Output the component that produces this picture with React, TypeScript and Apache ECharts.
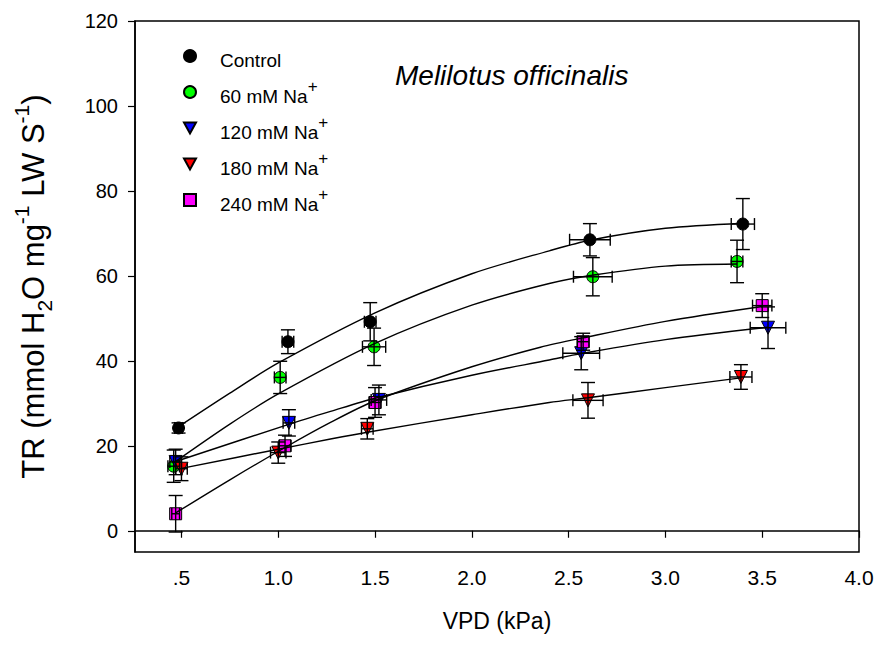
import React, { useEffect, useRef } from "react";
import * as echarts from "echarts";

// ---- Data ----
const groupNames = ["Control", "60 mM Na+", "120 mM Na+", "180 mM Na+", "240 mM Na+"];
const groupColors = ["#000000", "#00ff00", "#0000ff", "#ff0000", "#ff00ff"];
const groupSymbols = ["circle", "circle", "triangle", "triangle", "rect"];
const groupRotate = [0, 0, 180, 180, 0];
const downTriangle = "path://M0,0 L10,0 L5,9 Z";

// VPD (kPa) means
const ctrlX = [0.485, 1.05, 1.475, 2.61, 3.4];
const na60X = [0.46, 1.01, 1.495, 2.625, 3.37];
const na120X = [0.47, 1.055, 1.52, 2.565, 3.53];
const na180X = [0.5, 1.0, 1.46, 2.6, 3.39];
const na240X = [0.47, 1.035, 1.5, 2.575, 3.5];
// TR means
const ctrlY = [24.2, 44.5, 49.2, 68.5, 72.2];
const na60Y = [15.2, 36.1, 43.3, 59.8, 63.4];
const na120Y = [16.2, 25.4, 30.8, 41.8, 47.8];
const na180Y = [14.6, 18.4, 24.0, 30.7, 36.2];
const na240Y = [4.0, 20.0, 30.2, 44.5, 53.0];
// Horizontal error (VPD)
const ctrlXErr = [0.02, 0.03, 0.03, 0.105, 0.06];
const na60XErr = [0.03, 0.03, 0.06, 0.1, 0.03];
const na120XErr = [0.03, 0.03, 0.04, 0.095, 0.092];
const na180XErr = [0.03, 0.04, 0.03, 0.078, 0.057];
const na240XErr = [0.02, 0.03, 0.03, 0.03, 0.05];
// Vertical error (TR)
const ctrlYErr = [1.2, 2.8, 4.5, 3.8, 6.0];
const na60YErr = [3.8, 3.8, 4.4, 4.5, 5.0];
const na120YErr = [3.0, 3.1, 3.5, 3.9, 4.9];
const na180YErr = [2.8, 2.5, 2.4, 4.2, 2.9];
const na240YErr = [4.3, 2.5, 3.5, 2.0, 2.8];

// Fitted curves
const ctrlCurveX = [0.485, 0.75, 1.0, 1.5, 2.0, 2.4, 2.61, 3.0, 3.4];
const ctrlCurveY = [24.5, 32.4, 39.5, 51.3, 60.5, 65.9, 68.4, 71.2, 72.4];
const na60CurveX = [0.46, 0.75, 1.0, 1.5, 2.0, 2.4, 2.63, 3.0, 3.37];
const na60CurveY = [16.0, 25.1, 32.2, 44.1, 53.1, 58.2, 60.2, 62.3, 62.8];
const na120CurveX = [0.47, 1.05, 1.27, 1.5, 2.0, 2.4, 2.565, 3.0, 3.53];
const na120CurveY = [16.3, 25.0, 28.1, 31.2, 36.6, 40.2, 41.7, 45.0, 47.9];
const na180CurveX = [0.5, 1.0, 1.27, 1.46, 2.0, 2.4, 2.6, 3.0, 3.39];
const na180CurveY = [14.7, 19.2, 21.6, 23.2, 27.3, 30.2, 31.3, 33.7, 36.0];
const na240CurveX = [0.47, 0.75, 1.035, 1.27, 1.5, 2.0, 2.354, 2.573, 3.0, 3.5];
const na240CurveY = [4.2, 12.0, 19.6, 25.5, 30.6, 38.6, 43.2, 45.4, 49.3, 52.8];

const xTicks = [0.5, 1.0, 1.5, 2.0, 2.5, 3.0, 3.5, 4.0];
const yTicks = [0, 20, 40, 60, 80, 100, 120];

const allX = [ctrlX, na60X, na120X, na180X, na240X];
const allY = [ctrlY, na60Y, na120Y, na180Y, na240Y];
const allXErr = [ctrlXErr, na60XErr, na120XErr, na180XErr, na240XErr];
const allYErr = [ctrlYErr, na60YErr, na120YErr, na180YErr, na240YErr];
const allCurveX = [ctrlCurveX, na60CurveX, na120CurveX, na180CurveX, na240CurveX];
const allCurveY = [ctrlCurveY, na60CurveY, na120CurveY, na180CurveY, na240CurveY];

const SANS = "'Liberation Sans', Arial, sans-serif";
const NARROW = "'Liberation Sans Narrow', 'Liberation Sans', Arial, sans-serif";

function buildOption() {
  const series: any[] = [];
  groupNames.forEach((name, g) => {
    series.push({
      name,
      type: "scatter",
      z: 2,
      symbol: groupSymbols[g],
      symbolSize: groupSymbols[g] === "rect" ? 12 : groupSymbols[g] === "triangle" ? 13 : 12,
      symbolRotate: groupRotate[g],
      itemStyle: { color: groupColors[g], borderColor: "#000", borderWidth: 1, opacity: 1 },
      emphasis: { disabled: true },
      data: allX[g].map((x, i) => [x, allY[g][i]]),
    });
    series.push({
      name: name + " err",
      type: "custom",
      z: 3,
      data: allX[g].map((x, i) => [x, allY[g][i], allXErr[g][i], allYErr[g][i]]),
      renderItem: (_p: any, api: any) => {
        const x = api.value(0);
        const y = api.value(1);
        const xe = api.value(2);
        const ye = api.value(3);
        const top = api.coord([x, y + ye]);
        const bot = api.coord([x, y - ye]);
        const lft = api.coord([x - xe, y]);
        const rgt = api.coord([x + xe, y]);
        const cw = 7;
        const ch = 6;
        const style = { stroke: "#000", lineWidth: 1.4 };
        const ln = (x1: number, y1: number, x2: number, y2: number) => ({
          type: "line",
          shape: { x1, y1, x2, y2 },
          style,
        });
        return {
          type: "group",
          children: [
            ln(top[0], top[1], bot[0], bot[1]),
            ln(top[0] - cw, top[1], top[0] + cw, top[1]),
            ln(bot[0] - cw, bot[1], bot[0] + cw, bot[1]),
            ln(lft[0], lft[1], rgt[0], rgt[1]),
            ln(lft[0], lft[1] - ch, lft[0], lft[1] + ch),
            ln(rgt[0], rgt[1] - ch, rgt[0], rgt[1] + ch),
          ],
        };
      },
    });
    series.push({
      name: name + " fit",
      type: "line",
      z: 4,
      smooth: 0.3,
      showSymbol: false,
      symbol: "none",
      lineStyle: { color: "#000", width: 1.4 },
      data: allCurveX[g].map((x, i) => [x, allCurveY[g][i]]),
    });
  });

  const legendRich = {
    a: { fontSize: 19, fontFamily: SANS, color: "#000", lineHeight: 28, verticalAlign: "bottom" },
    sup: { fontSize: 17, fontFamily: SANS, color: "#000", lineHeight: 16, verticalAlign: "top" },
  };

  return {
    animation: false,
    backgroundColor: "#fff",
    grid: {
      left: 135,
      right: 22,
      top: 21,
      bottom: 99,
      show: true,
      borderColor: "#000",
      borderWidth: 1.5,
    },
    title: {
      text: "Melilotus officinalis",
      left: 390,
      top: 56,
      textStyle: { fontFamily: SANS, fontStyle: "italic", fontWeight: "normal", fontSize: 28, color: "#000" },
    },
    legend: {
      orient: "vertical",
      left: 178,
      top: 44,
      itemWidth: 12,
      itemHeight: 12,
      itemGap: 8,
      data: groupNames.map((n, g) =>
        groupRotate[g] === 180 ? { name: n, icon: downTriangle } : { name: n }
      ),
      itemStyle: { opacity: 1 },
      formatter: (n: string) =>
        n.endsWith("+") ? `{a|${n.slice(0, -1)}}{sup|+}` : `{a|${n}}`,
      textStyle: { rich: legendRich, fontSize: 19, color: "#000", padding: [0, 0, 0, 19] },
    },
    xAxis: {
      type: "value",
      min: 0.26,
      max: 4.0,
      axisLine: { show: true, lineStyle: { color: "#000", width: 1.5 } },
      axisTick: { show: true, customValues: xTicks, length: 7, lineStyle: { color: "#000", width: 1.2 } },
      axisLabel: {
        customValues: xTicks,
        formatter: (v: number) => (v === 0.5 ? ".5" : v.toFixed(1)),
        fontFamily: NARROW,
        fontSize: 21,
        color: "#000",
        margin: 15,
      },
      splitLine: { show: false },
      name: "VPD (kPa)",
      nameLocation: "middle",
      nameGap: 57,
      nameTextStyle: { fontFamily: NARROW, fontSize: 23, color: "#000" },
    },
    yAxis: {
      type: "value",
      min: -5,
      max: 120,
      axisLine: { show: true, lineStyle: { color: "#000", width: 1.5 } },
      axisTick: { show: true, customValues: yTicks, length: 7, lineStyle: { color: "#000", width: 1.2 } },
      axisLabel: {
        customValues: yTicks,
        fontFamily: SANS,
        fontSize: 20,
        color: "#000",
        margin: 17,
      },
      splitLine: { show: false },
      name: "{t|TR (mmol H}{sub|2}{t|O mg}{sup|-1}{t| LW S}{sup|-1}{t|)}",
      nameLocation: "middle",
      nameRotate: 90,
      nameGap: 80,
      nameTextStyle: {
        rich: {
          t: { fontFamily: SANS, fontSize: 31, color: "#000", lineHeight: 44, verticalAlign: "middle" },
          sub: { fontFamily: SANS, fontSize: 21, color: "#000", lineHeight: 21, verticalAlign: "bottom" },
          sup: { fontFamily: SANS, fontSize: 21, color: "#000", lineHeight: 21, verticalAlign: "top" },
        },
      },
    },
    series,
  };
}

export default function App() {
  const ref = useRef<HTMLDivElement>(null);
  useEffect(() => {
    if (!ref.current) return;
    const chart = echarts.init(ref.current, undefined, { renderer: "svg" });
    chart.setOption(buildOption() as any);
    return () => chart.dispose();
  }, []);
  return <div ref={ref} style={{ width: 881, height: 651, position: "absolute", left: 0, top: 0 }} />;
}
